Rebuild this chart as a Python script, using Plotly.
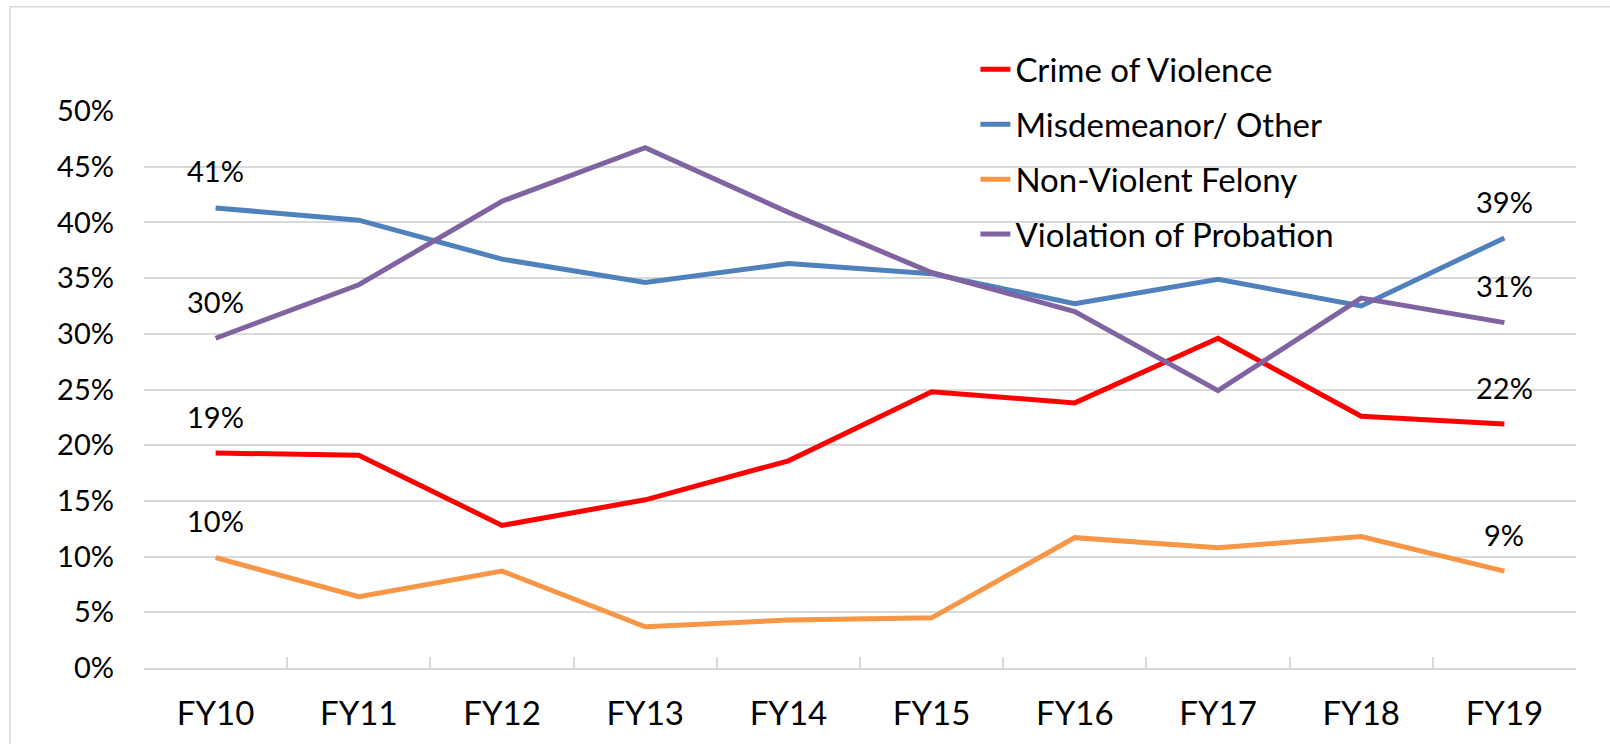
import plotly.graph_objects as go

categories = ["FY10", "FY11", "FY12", "FY13", "FY14", "FY15", "FY16", "FY17", "FY18", "FY19"]
crime_of_violence = [19.3, 19.1, 12.8, 15.1, 18.6, 24.8, 23.8, 29.6, 22.6, 21.9]
misdemeanor_other = [41.3, 40.2, 36.7, 34.6, 36.3, 35.4, 32.7, 34.9, 32.5, 38.6]
non_violent_felony = [9.9, 6.4, 8.7, 3.7, 4.3, 4.5, 11.7, 10.8, 11.8, 8.7]
violation_of_probation = [29.6, 34.4, 41.9, 46.7, 40.9, 35.5, 32.0, 24.9, 33.2, 31.0]
y_ticks = [0, 5, 10, 15, 20, 25, 30, 35, 40, 45, 50]

series = [
    ("Crime of Violence", crime_of_violence, "#FF0000"),
    ("Misdemeanor/ Other", misdemeanor_other, "#4F81BD"),
    ("Non-Violent Felony", non_violent_felony, "#F79646"),
    ("Violation of Probation", violation_of_probation, "#8064A2"),
]

FONT = "Lato, 'Open Sans', sans-serif"
FS = 29
fig = go.Figure()
annotations = []
for i, (name, vals, color) in enumerate(series):
    fig.add_trace(go.Scatter(
        x=categories, y=vals, name=name, mode="lines",
        line=dict(color=color, width=5), legendgroup=f"g{i}",
    ))
    for idx in (0, len(categories) - 1):
        annotations.append(dict(
            x=categories[idx], y=vals[idx], xref="x", yref="y",
            text=f"{round(vals[idx])}%", showarrow=False, yshift=37,
            font=dict(family=FONT, size=FS, color="#000000"),
        ))

fig.update_layout(
    width=1610, height=744,
    margin=dict(l=144, r=34, t=111, b=76, autoexpand=False),
    paper_bgcolor="white", plot_bgcolor="white",
    font=dict(family=FONT, size=FS, color="#000000"),
    annotations=annotations,
    showlegend=True,
    legend=dict(
        x=0.5806, y=1.125, xanchor="left", yanchor="top",
        font=dict(family=FONT, size=33, color="#000000"),
        tracegroupgap=9, bgcolor="rgba(0,0,0,0)",
    ),
    shapes=[dict(
        type="rect", xref="paper", yref="paper",
        x0=-0.0935, x1=1.3, y0=-0.4, y1=1.187,
        line=dict(color="#D9D9D9", width=1.5), layer="below",
    )],
)
fig.update_xaxes(
    type="category", range=[-0.5, 9.5], tickson="boundaries", ticks="inside", ticklen=11,
    tickcolor="#D9D9D9", tickwidth=1.5, showline=True, linecolor="#D9D9D9",
    linewidth=1.5, showgrid=False, ticklabelstandoff=16, automargin=False,
    tickfont=dict(family=FONT, size=33, color="#000000"),
)
fig.update_yaxes(
    range=[0, 50], tickvals=y_ticks, ticktext=[f"{v}%" for v in y_ticks],
    showgrid=True, gridcolor="#D9D9D9", gridwidth=1.5, zeroline=False,
    showline=False, ticks="", ticklabelstandoff=29, automargin=False,
    tickfont=dict(family=FONT, size=FS, color="#000000"),
)

fig.write_html(
    "out.html",
    config={"displayModeBar": False},
    post_script="document.body.style.margin='0';document.body.style.overflow='hidden';",
)
